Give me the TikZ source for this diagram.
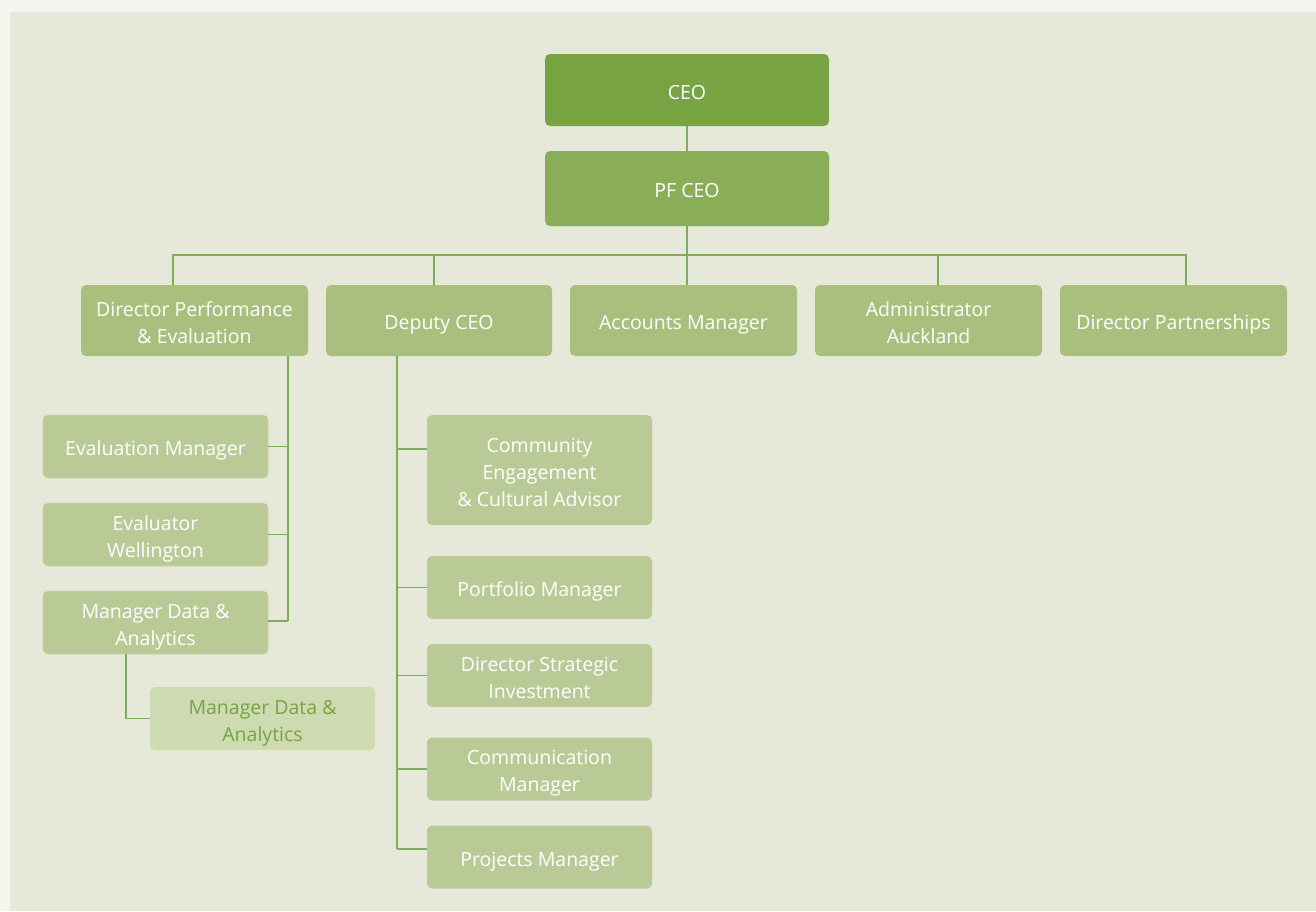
\documentclass[tikz,border=0pt]{standalone}
\usepackage{fontspec}
\setmainfont{Open Sans}
\definecolor{outerbg}{HTML}{F4F5EF}
\definecolor{panelbg}{HTML}{E6E8DA}
\definecolor{ceoc}{HTML}{78A343}
\definecolor{pfc}{HTML}{8AAE57}
\definecolor{lvtwo}{HTML}{A8BF7D}
\definecolor{lvthree}{HTML}{B9CA97}
\definecolor{lvfour}{HTML}{CEDAB2}
\definecolor{linec}{HTML}{84AB55}
\definecolor{tanc}{HTML}{D3CBA5}
\newcommand\tp{\rule{0pt}{24pt}}
\newcommand\bt{\rule[-5.4pt]{0pt}{5.4pt}}
\begin{document}
\begin{tikzpicture}[x=1pt,y=-1pt,
  box/.style={rounded corners=5pt, text=white, align=center, inner sep=0pt,
    font=\fontsize{19.5}{27}\selectfont},
  conn/.style={draw=linec, line width=1.5pt}]
\fill[outerbg] (0,0) rectangle (1316,911);
\fill[panelbg] (10,12) rectangle (1316,911);
\useasboundingbox (0,0) rectangle (1316,911);
% top
\node[box, fill=ceoc, minimum width=284pt, minimum height=72pt] (ceo) at (687,90) {\tp CEO\bt};
\node[box, fill=pfc, minimum width=284pt, minimum height=75pt] (pf) at (687,188.5) {\tp PF CEO\bt};
% level 2
\node[box, fill=lvtwo, minimum width=227pt, minimum height=71pt] (dpe) at (194.5,320.5) {\tp Director Performance\\ \& Evaluation\bt};
\node[box, fill=lvtwo, minimum width=226pt, minimum height=71pt] (dep) at (439,320.5) {\tp Deputy CEO\bt};
\node[box, fill=lvtwo, minimum width=227pt, minimum height=71pt] (acc) at (683.5,320.5) {\tp Accounts Manager\bt};
\node[box, fill=lvtwo, minimum width=227pt, minimum height=71pt] (adm) at (928.5,320.5) {\tp Administrator\\ Auckland\bt};
\node[box, fill=lvtwo, minimum width=227pt, minimum height=71pt] (dpa) at (1173.5,320.5) {\tp Director Partnerships\bt};
% left branch
\node[box, fill=lvthree, draw=tanc, line width=0.6pt, minimum width=225pt, minimum height=63pt] (evm) at (155.5,446.5) {\tp Evaluation Manager\bt};
\node[box, fill=lvthree, draw=tanc, line width=0.6pt, minimum width=225pt, minimum height=63pt] (evw) at (155.5,534.5) {\tp Evaluator\\ Wellington\bt};
\node[box, fill=lvthree, draw=tanc, line width=0.6pt, minimum width=225pt, minimum height=63pt] (mda) at (155.5,622.5) {\tp Manager Data \&\\ Analytics\bt};
\node[box, fill=lvfour, text=ceoc, minimum width=225pt, minimum height=63pt] (mdb) at (262.5,718.5) {\tp Manager Data \&\\ Analytics\bt};
% deputy branch
\node[box, fill=lvthree, minimum width=225pt, minimum height=110pt] (cea) at (539.5,470) {\tp Community\\ Engagement\\ \& Cultural Advisor\bt};
\node[box, fill=lvthree, minimum width=225pt, minimum height=63pt] (pfm) at (539.5,587.5) {\tp Portfolio Manager\bt};
\node[box, fill=lvthree, minimum width=225pt, minimum height=63pt] (dsi) at (539.5,675.5) {\tp Director Strategic\\ Investment\bt};
\node[box, fill=lvthree, minimum width=225pt, minimum height=63pt] (com) at (539.5,769) {\tp Communication\\ Manager\bt};
\node[box, fill=lvthree, minimum width=225pt, minimum height=63pt] (prm) at (539.5,857) {\tp Projects Manager\bt};
% connectors
\draw[conn] (ceo.south) -- (pf.north);
\coordinate (bus) at (687,255);
\draw[conn] (pf.south) -- (bus);
\draw[conn] (dpe.north -| 173,0) |- (bus) -| (dpa.north -| 1186,0);
\draw[conn] (dep.north -| 434,0) -- (434,255);
\draw[conn] (bus) -- (acc.north -| 687,0);
\draw[conn] (adm.north -| 938,0) -- (938,255);
% left branch
\coordinate (lv) at (288,621);
\draw[conn] (dpe.south -| lv) -- (lv);
\draw[conn] (evm.east) -- (evm.east -| lv);
\draw[conn] (evw.east) -- (evw.east -| lv);
\draw[conn] (mda.east |- lv) -- (lv);
\draw[conn] (mda.south -| 126,0) |- (mdb.west);
% deputy branch
\coordinate (dv) at (397,849);
\draw[conn] (dep.south -| dv) -- (dv);
\draw[conn] (cea.west |- 0,449) -- (397,449);
\draw[conn] (pfm.west) -- (pfm.west -| dv);
\draw[conn] (dsi.west) -- (dsi.west -| dv);
\draw[conn] (com.west) -- (com.west -| dv);
\draw[conn] (prm.west |- dv) -- (dv);
\end{tikzpicture}
\end{document}
